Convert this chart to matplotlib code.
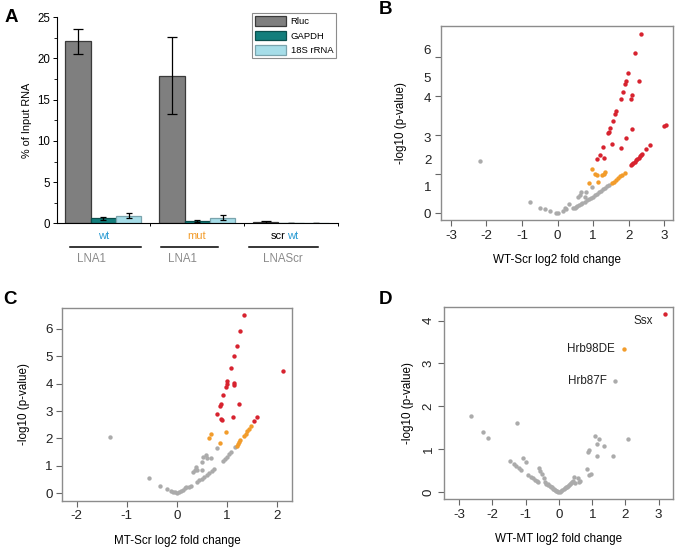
import matplotlib
matplotlib.use('Agg')
import matplotlib.pyplot as plt
import numpy as np

plt.rcParams['font.family'] = ['Liberation Sans', 'DejaVu Sans']
plt.rcParams['axes.unicode_minus'] = False

# ---------------- data ----------------
# panel A: % of input RNA pulled down
genes = ['Rluc', 'GAPDH', '18S rRNA']
rluc = [22.1, 17.9, 0.15]
rluc_err = [1.5, 4.65, 0.15]
gapdh = [0.6, 0.3, 0.02]
gapdh_err = [0.2, 0.1, 0.0]
rrna = [0.9, 0.7, 0.05]
rrna_err = [0.3, 0.3, 0.03]
probe_names = ['LNA1', 'LNA1', 'LNAScr']

# panel B: WT-Scr volcano (y in axis tick units)
b_gray_x = [-2.18, -0.78, -0.50, -0.36, -0.20, -0.05, 0.02, 0.16, 0.21, 0.25, 0.33,
            0.44, 0.48, 0.52, 0.56, 0.60, 0.65, 0.70, 0.76, 0.82, 0.88, 0.94, 1.00,
            1.05, 1.10, 1.16, 1.22, 1.28, 1.34, 1.40, 1.46, 0.59, 0.63, 0.67, 0.77,
            0.79, 0.96]
b_gray_y = [1.35, 0.29, 0.15, 0.10, 0.05, 0.02, 0.00, 0.06, 0.13, 0.10, 0.23,
            0.13, 0.15, 0.17, 0.19, 0.21, 0.24, 0.27, 0.30, 0.33, 0.37, 0.40, 0.43,
            0.47, 0.50, 0.54, 0.58, 0.62, 0.66, 0.70, 0.73, 0.43, 0.47, 0.55, 0.43,
            0.55, 0.67]
b_orange_x = [1.52, 1.58, 1.64, 1.70, 1.76, 1.82, 1.89, 0.89, 0.98, 1.05, 1.10,
              1.14, 1.25, 1.31, 1.35]
b_orange_y = [0.77, 0.81, 0.86, 0.90, 0.95, 0.99, 1.04, 0.79, 1.13, 1.01, 0.98,
              0.80, 0.98, 1.01, 1.07]
b_red_x = [2.35, 2.17, 1.99, 2.29, 1.92, 1.89, 1.83, 1.78, 2.10, 2.06, 1.64, 1.61,
           1.55, 1.49, 1.44, 1.42, 2.09, 1.94, 1.52, 1.28, 1.78, 1.19, 1.12, 1.32,
           3.00, 3.04, 2.60, 2.50, 2.06, 2.10, 2.13, 2.17, 2.20, 2.24, 2.28, 2.31,
           2.35, 2.38]
b_red_y = [4.61, 4.10, 3.59, 3.40, 3.39, 3.31, 3.10, 2.94, 3.03, 2.94, 2.63, 2.55,
           2.36, 2.20, 2.09, 2.05, 2.17, 1.92, 1.79, 1.71, 1.68, 1.49, 1.40, 1.42,
           2.24, 2.27, 1.75, 1.66, 1.23, 1.26, 1.29, 1.32, 1.36, 1.39, 1.43, 1.46,
           1.49, 1.52]
b_ytick_labels = ['0', '1', '2', '3', '4', '5', '6']
b_ytick_pos = [0, 0.68, 1.38, 1.95, 2.97, 3.49, 4.20]

# panel C: MT-Scr volcano
c_gray_x = [-1.33, -0.55, -0.33, -0.20, -0.12, -0.07, -0.03, 0.00, 0.04, 0.08, 0.13,
            0.17, 0.19, 0.24, 0.28, 0.33, 0.36, 0.39, 0.41, 0.50, 0.51, 0.53, 0.59,
            0.60, 0.69, 0.80, 0.40, 0.45, 0.50, 0.55, 0.60, 0.65, 0.70, 0.75, 0.93,
            0.97, 1.01, 1.05, 1.08, 1.16]
c_gray_y = [2.07, 0.57, 0.28, 0.16, 0.09, 0.05, 0.03, 0.01, 0.03, 0.07, 0.13,
            0.20, 0.23, 0.22, 0.26, 0.79, 0.86, 0.97, 0.85, 0.84, 1.15, 1.34, 1.40,
            1.28, 1.30, 1.64, 0.42, 0.47, 0.53, 0.59, 0.66, 0.73, 0.80, 0.88, 1.18,
            1.26, 1.34, 1.43, 1.52, 1.68]
c_orange_x = [0.68, 0.65, 0.98, 0.86, 1.20, 1.23, 1.25, 1.27, 1.35, 1.38, 1.41,
              1.44, 1.48]
c_orange_y = [2.18, 2.01, 2.24, 1.82, 1.72, 1.80, 1.87, 1.95, 2.10, 2.18, 2.26,
              2.34, 2.46]
c_red_x = [1.35, 1.27, 1.20, 1.15, 1.08, 1.01, 1.00, 0.98, 1.15, 1.14, 0.93, 0.88,
           0.87, 1.25, 0.81, 0.91, 0.89, 1.13, 2.13, 1.60, 1.55]
c_red_y = [6.51, 5.92, 5.39, 5.01, 4.56, 4.10, 4.00, 3.87, 4.01, 3.94, 3.58, 3.25,
           3.18, 3.26, 2.88, 2.67, 2.71, 2.80, 4.46, 2.78, 2.64]

# panel D: WT-MT volcano
d_gray_x = [-2.66, -2.28, -2.13, -1.26, -1.46, -1.35, -1.28, -1.21, -1.14, -1.07,
            -1.00, -0.92, -0.84, -0.78, -0.72, -0.66, -0.62, -0.60, -0.56, -0.50,
            -0.46, -0.42, -0.38, -0.34, -0.32, -0.28, -0.25, -0.22, -0.18, -0.15,
            -0.12, -0.08, -0.05, -0.02, 0.03, 0.06, 0.10, 0.14, 0.17, 0.20, 0.24,
            0.27, 0.30, 0.33, 0.36, 0.38, 0.42, 0.44, 0.48, 0.56, 0.60, 0.63, 0.83,
            0.90, 0.96, 0.86, 0.90, 1.08, 1.21, 1.14, 1.35, 1.14, 1.61, 2.09, 1.69]
d_gray_y = [1.77, 1.40, 1.26, 1.62, 0.73, 0.65, 0.60, 0.56, 0.51, 0.79,
            0.70, 0.40, 0.36, 0.32, 0.29, 0.26, 0.24, 0.56, 0.50, 0.42,
            0.33, 0.24, 0.20, 0.18, 0.17, 0.14, 0.12, 0.11, 0.08, 0.07,
            0.05, 0.03, 0.02, 0.00, 0.01, 0.03, 0.05, 0.07, 0.09, 0.11, 0.13,
            0.15, 0.17, 0.19, 0.22, 0.24, 0.27, 0.36, 0.22, 0.34, 0.24, 0.25, 0.54,
            0.40, 0.43, 0.93, 0.98, 1.31, 1.24, 1.12, 1.07, 0.84, 0.84, 1.23, 2.59]
d_orange_x = [1.97]
d_orange_y = [3.34]
d_red_x = [3.19]
d_red_y = [4.16]
d_genes = ['Ssx', 'Hrb98DE', 'Hrb87F']
d_gene_x = [3.19, 1.97, 1.69]
d_gene_y = [4.16, 3.34, 2.59]

RED = '#d7232f'
ORANGE = '#f29c2b'
GRAY = '#ababab'
BLUE = '#2a9bd3'

fig = plt.figure(figsize=(6.75, 5.48), dpi=100)


def px(l, t, r, b):
    # pixel box -> figure fraction rect
    return [l / 675, 1 - b / 548, (r - l) / 675, (b - t) / 548]


# ---------------- panel A ----------------
ax = fig.add_axes(px(57.3, 17.3, 338, 223.3))
x = np.arange(3)
w = 0.27
ekw = dict(ecolor='black', elinewidth=0.9, capthick=0.9)
ax.bar(x - w, rluc, w, yerr=rluc_err, color='#7f7f7f', edgecolor='#3a3a3a',
       linewidth=0.9, capsize=3.5, error_kw=ekw, label=genes[0])
ax.bar(x, gapdh, w, yerr=gapdh_err, color='#137e7c', edgecolor='#0b4f4d',
       linewidth=0.9, capsize=2.5, error_kw=ekw, label=genes[1])
ax.bar(x + w, rrna, w, yerr=rrna_err, color='#a6dde8', edgecolor='#7aa4ad',
       linewidth=0.9, capsize=2.5, error_kw=ekw, label=genes[2])
ax.set_xlim(-0.49, 2.5)
ax.set_ylim(0, 25)
ax.set_yticks([0, 5, 10, 15, 20, 25])
ax.set_yticks(np.arange(0, 25, 2.5), minor=True)
ax.set_xticks([0.5, 1.5, 2.5])
ax.set_xticklabels([])
for s in ['top', 'right']:
    ax.spines[s].set_visible(False)
for s in ['left', 'bottom']:
    ax.spines[s].set_linewidth(0.8)
ax.tick_params(axis='y', which='major', labelsize=8.3, length=3, width=0.7, pad=2)
ax.tick_params(axis='y', which='minor', length=2, width=0.6)
ax.tick_params(axis='x', length=2.5, width=0.7)
ax.set_ylabel('% of Input RNA', fontsize=7.8, labelpad=4)
leg = ax.legend(loc='upper right', bbox_to_anchor=(336 / 675, 1 - 13.3 / 548),
                bbox_transform=fig.transFigure, fontsize=6.8, frameon=True,
                fancybox=False, edgecolor='#8c8c8c', framealpha=1,
                handlelength=3.3, handleheight=1.15, handletextpad=0.45,
                labelspacing=0.5, borderpad=0.3, borderaxespad=0)
leg.get_frame().set_linewidth(0.8)

xt = ax.get_xaxis_transform()
ax.text(0, -0.06, 'wt', color=BLUE, fontsize=8, ha='center', va='center', transform=xt)
ax.text(0.99, -0.06, 'mut', color=ORANGE, fontsize=8, ha='center', va='center', transform=xt)
ax.text(1.94, -0.06, 'scr', color='black', fontsize=8, ha='right', va='center', transform=xt)
ax.text(1.96, -0.06, 'wt', color=BLUE, fontsize=8, ha='left', va='center', transform=xt)
spans = [(-0.356, 0.406), (0.61, 1.218), (1.548, 2.282)]
label_x = [-0.125, 0.84, 1.91]
for (a, b), lx, name in zip(spans, label_x, probe_names):
    ax.plot([a, b], [-0.1165, -0.1165], color='black', lw=1.1, transform=xt, clip_on=False)
    ax.text(lx, -0.173, name, color='#8a8a8a', fontsize=8.3, ha='center', va='center',
            transform=xt)
fig.text(11 / 675, 1 - 18 / 548, 'A', fontsize=13.5, fontweight='bold', ha='center', va='center')


# ---------------- volcano panels ----------------
def style_box(ax):
    for s in ax.spines.values():
        s.set_color('#8c8c8c')
        s.set_linewidth(1.0)
    ax.tick_params(length=4, width=0.8, color='#666666', labelsize=9.6,
                   labelcolor='#222222', pad=3)


def dots(ax, xs, ys, col):
    ax.scatter(xs, ys, s=10, c=col, linewidths=0, zorder=3)


# panel B
ax = fig.add_axes(px(441, 25.7, 673, 220))
dots(ax, b_gray_x, b_gray_y, GRAY)
dots(ax, b_orange_x, b_orange_y, ORANGE)
dots(ax, b_red_x, b_red_y, RED)
ax.set_xlim(-3.28, 3.25)
ax.set_ylim(-0.17, 4.81)
ax.set_xticks([-3, -2, -1, 0, 1, 2, 3])
ax.set_yticks([0, 1, 2, 3, 4])
ax.set_yticklabels([])
ax.yaxis.remove_overlapping_locs = False
ax.set_yticks(b_ytick_pos, minor=True)
ax.set_yticklabels(b_ytick_labels, minor=True)
style_box(ax)
ax.tick_params(axis='y', which='minor', length=0, labelsize=9.6, labelcolor='#222222', pad=7)
ax.set_xlabel('WT-Scr log2 fold change', fontsize=8.4, labelpad=9)
ax.set_ylabel('-log10 (p-value)', fontsize=8.4, labelpad=12)
fig.text(386 / 675, 1 - 9 / 548, 'B', fontsize=13.5, fontweight='bold', ha='center', va='center')

# panel C
ax = fig.add_axes(px(62.3, 307.7, 292.3, 500.7))
dots(ax, c_gray_x, c_gray_y, GRAY)
dots(ax, c_orange_x, c_orange_y, ORANGE)
dots(ax, c_red_x, c_red_y, RED)
ax.set_xlim(-2.29, 2.31)
ax.set_ylim(-0.27, 6.77)
ax.set_xticks([-2, -1, 0, 1, 2])
ax.set_yticks([0, 1, 2, 3, 4, 5, 6])
style_box(ax)
ax.set_xlabel('MT-Scr log2 fold change', fontsize=8.4, labelpad=9)
ax.set_ylabel('-log10 (p-value)', fontsize=8.4, labelpad=11)
fig.text(10 / 675, 1 - 300 / 548, 'C', fontsize=13.5, fontweight='bold', ha='center', va='center')

# panel D
ax = fig.add_axes(px(444.3, 307.3, 673, 499))
dots(ax, d_gray_x, d_gray_y, GRAY)
dots(ax, d_orange_x, d_orange_y, ORANGE)
dots(ax, d_red_x, d_red_y, RED)
ax.set_xlim(-3.45, 3.43)
ax.set_ylim(-0.16, 4.31)
ax.set_xticks([-3, -2, -1, 0, 1, 2, 3])
ax.set_yticks([0, 1, 2, 3, 4])
style_box(ax)
for lab in ax.get_yticklabels():
    lab.set_rotation(90)
    lab.set_va('center')
offsets = [(-12, -7), (-10, 0), (-8, 0)]
for name, gx, gy, off in zip(d_genes, d_gene_x, d_gene_y, offsets):
    ax.annotate(name, (gx, gy), xytext=off, textcoords='offset pixels',
                ha='right', va='center', fontsize=8.4, color='#222222')
ax.set_xlabel('WT-MT log2 fold change', fontsize=8.4, labelpad=9)
ax.set_ylabel('-log10 (p-value)', fontsize=8.4, labelpad=6)
fig.text(386 / 675, 1 - 300 / 548, 'D', fontsize=13.5, fontweight='bold', ha='center', va='center')

fig.savefig('out.png', dpi=100)
